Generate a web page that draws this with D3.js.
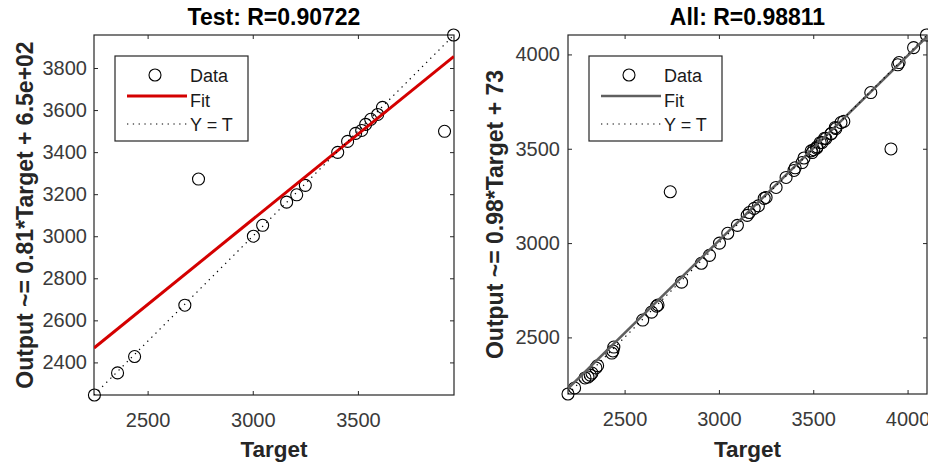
<!DOCTYPE html>
<html>
<head>
<meta charset="utf-8">
<script src="https://cdn.jsdelivr.net/npm/d3@7"></script>
<style>
  body { margin: 0; background: #fff; }
  text { font-family: "Liberation Sans", Arial, sans-serif; }
</style>
</head>
<body>
<script>
const width = 928;
const height = 466;

// Test panel (Target, Output)
const testTarget = [2247, 2357, 2438, 2677, 2742, 3003, 3047, 3161, 3209, 3250,
  3404, 3451, 3489, 3518, 3537, 3561, 3594, 3617, 3912, 3955];
const testOutput = [2245, 2350, 2428, 2672, 3272, 3000, 3052, 3162, 3197, 3242,
  3399, 3451, 3489, 3503, 3532, 3556, 3579, 3613, 3499, 3957];
const testFit = [0.81, 650];
const testXTicks = [2500, 3000, 3500];
const testYTicks = [2400, 2600, 2800, 3000, 3200, 3400, 3600, 3800];

// All panel (Target, Output)
const allTarget = [2200, 2235, 2290, 2306, 2318, 2327, 2348, 2357, 2432, 2438,
  2443, 2596, 2643, 2670, 2677, 2742, 2802, 2907, 2950, 3003,
  3047, 3098, 3150, 3161, 3187, 3209, 3240, 3250, 3303, 3356,
  3398, 3404, 3441, 3451, 3489, 3494, 3503, 3518, 3520, 3537,
  3546, 3561, 3567, 3594, 3596, 3617, 3620, 3647, 3662, 3805,
  3912, 3948, 3955, 4032, 4100];
const allOutput = [2200, 2232, 2285, 2290, 2300, 2311, 2338, 2350, 2417, 2428,
  2449, 2592, 2634, 2666, 2672, 3272, 2793, 2893, 2935, 3000,
  3052, 3094, 3147, 3162, 3184, 3197, 3237, 3242, 3295, 3348,
  3385, 3399, 3427, 3451, 3489, 3480, 3495, 3503, 3510, 3532,
  3533, 3556, 3554, 3579, 3581, 3613, 3607, 3639, 3645, 3798,
  3499, 3945, 3957, 4036, 4103];
const allFit = [0.98, 73];
const allTicks = [2500, 3000, 3500, 4000];

const svg = d3
  .select("body")
  .append("svg")
  .attr("width", width)
  .attr("height", height)
  .attr("viewBox", [0, 0, width, height]);

drawPanel({
  id: "test",
  left: 94, top: 35, size: 360,
  target: testTarget, output: testOutput, fit: testFit,
  xTicks: testXTicks, yTicks: testYTicks,
  fitColor: "#d40000", fitWidth: 3,
  title: "Test: R=0.90722",
  ylabel: "Output ~= 0.81*Target + 6.5e+02",
  ylabelX: 33,
  tickPad: 7,
});

drawPanel({
  id: "all",
  left: 568, top: 35, size: 359,
  target: allTarget, output: allOutput, fit: allFit,
  xTicks: allTicks, yTicks: allTicks,
  fitColor: "#5f5f5f", fitWidth: 2.5,
  title: "All: R=0.98811",
  ylabel: "Output ~= 0.98*Target + 73",
  ylabelX: 503,
  tickPad: 8,
});

function drawPanel(p) {
  const points = p.target.map((t, i) => ({ t: t, o: p.output[i] }));
  const lo = Math.min(d3.min(p.target), d3.min(p.output));
  const hi = Math.max(d3.max(p.target), d3.max(p.output));

  const x = d3.scaleLinear().domain([lo, hi]).range([p.left, p.left + p.size]);
  const y = d3.scaleLinear().domain([lo, hi]).range([p.top + p.size, p.top]);

  const g = svg.append("g");

  g.append("clipPath")
    .attr("id", "clip-" + p.id)
    .append("rect")
    .attr("x", p.left)
    .attr("y", p.top)
    .attr("width", p.size)
    .attr("height", p.size);

  // axes with inward ticks on all four sides
  const tick = 4;
  const fmt = d3.format("d");
  const styleAxis = (sel) => {
    sel.select(".domain").remove();
    sel.selectAll("line").attr("stroke", "#262626");
    sel.selectAll("text")
      .attr("fill", "#3a3a3a")
      .style("font-size", "20px")
      .style("font-family", '"Liberation Sans", Arial, sans-serif');
  };

  g.append("g")
    .attr("transform", `translate(0,${p.top + p.size})`)
    .call(d3.axisBottom(x).tickValues(p.xTicks).tickFormat(fmt).tickSizeInner(-tick).tickSizeOuter(0).tickPadding(18))
    .call(styleAxis);
  g.append("g")
    .attr("transform", `translate(0,${p.top})`)
    .call(d3.axisTop(x).tickValues(p.xTicks).tickSizeInner(-tick).tickSizeOuter(0).tickFormat(""))
    .call(styleAxis);
  g.append("g")
    .attr("transform", `translate(${p.left},0)`)
    .call(d3.axisLeft(y).tickValues(p.yTicks).tickFormat(fmt).tickSizeInner(-tick).tickSizeOuter(0).tickPadding(p.tickPad))
    .call(styleAxis);
  g.append("g")
    .attr("transform", `translate(${p.left + p.size},0)`)
    .call(d3.axisRight(y).tickValues(p.yTicks).tickSizeInner(-tick).tickSizeOuter(0).tickFormat(""))
    .call(styleAxis);

  g.append("rect")
    .attr("x", p.left)
    .attr("y", p.top)
    .attr("width", p.size)
    .attr("height", p.size)
    .attr("fill", "none")
    .attr("stroke", "#262626")
    .attr("stroke-width", 1.2);

  // data circles
  g.append("g")
    .selectAll("circle")
    .data(points)
    .join("circle")
    .attr("cx", (d) => x(d.t))
    .attr("cy", (d) => y(d.o))
    .attr("r", 6)
    .attr("fill", "none")
    .attr("stroke", "#000")
    .attr("stroke-width", 1.1);

  // fit line
  const fitLine = (t) => p.fit[0] * t + p.fit[1];
  g.append("line")
    .attr("clip-path", `url(#clip-${p.id})`)
    .attr("x1", x(lo))
    .attr("y1", y(fitLine(lo)))
    .attr("x2", x(hi))
    .attr("y2", y(fitLine(hi)))
    .attr("stroke", p.fitColor)
    .attr("stroke-width", p.fitWidth);

  // Y = T
  g.append("line")
    .attr("clip-path", `url(#clip-${p.id})`)
    .attr("x1", x(lo))
    .attr("y1", y(lo))
    .attr("x2", x(hi))
    .attr("y2", y(hi))
    .attr("stroke", "#000")
    .attr("stroke-width", 1.2)
    .attr("stroke-dasharray", "1.3,4.5");

  // legend
  const lx = p.left + 21;
  const ly = p.top + 21;
  const lg = g.append("g");
  lg.append("rect")
    .attr("x", lx)
    .attr("y", ly)
    .attr("width", 133)
    .attr("height", 85)
    .attr("fill", "#fff")
    .attr("stroke", "#262626")
    .attr("stroke-width", 1.2);
  lg.append("circle")
    .attr("cx", lx + 40)
    .attr("cy", ly + 19)
    .attr("r", 6)
    .attr("fill", "none")
    .attr("stroke", "#000")
    .attr("stroke-width", 1.1);
  lg.append("line")
    .attr("x1", lx + 12).attr("x2", lx + 72)
    .attr("y1", ly + 40).attr("y2", ly + 40)
    .attr("stroke", p.fitColor)
    .attr("stroke-width", p.fitWidth);
  lg.append("line")
    .attr("x1", lx + 12).attr("x2", lx + 72)
    .attr("y1", ly + 68).attr("y2", ly + 68)
    .attr("stroke", "#000")
    .attr("stroke-width", 1.2)
    .attr("stroke-dasharray", "1.3,4.5");
  lg.selectAll("text.entry")
    .data(["Data", "Fit", "Y = T"])
    .join("text")
    .attr("class", "entry")
    .attr("x", lx + 75)
    .attr("y", (d, i) => ly + 26 + i * 24.5)
    .attr("fill", "#1a1a1a")
    .style("font-size", "18px")
    .text((d) => d);

  // title and labels
  g.append("text")
    .attr("x", p.left + p.size / 2)
    .attr("y", 25)
    .attr("text-anchor", "middle")
    .style("font-size", "23px")
    .style("font-weight", "bold")
    .text(p.title);

  g.append("text")
    .attr("x", p.left + p.size / 2)
    .attr("y", 457)
    .attr("text-anchor", "middle")
    .attr("fill", "#262626")
    .style("font-size", "22.5px")
    .style("font-weight", "bold")
    .text("Target");

  g.append("text")
    .attr("transform", `translate(${p.ylabelX},${p.top + p.size / 2}) rotate(-90)`)
    .attr("text-anchor", "middle")
    .attr("fill", "#262626")
    .style("font-size", "23px")
    .style("font-weight", "bold")
    .text(p.ylabel);
}
</script>
</body>
</html>
